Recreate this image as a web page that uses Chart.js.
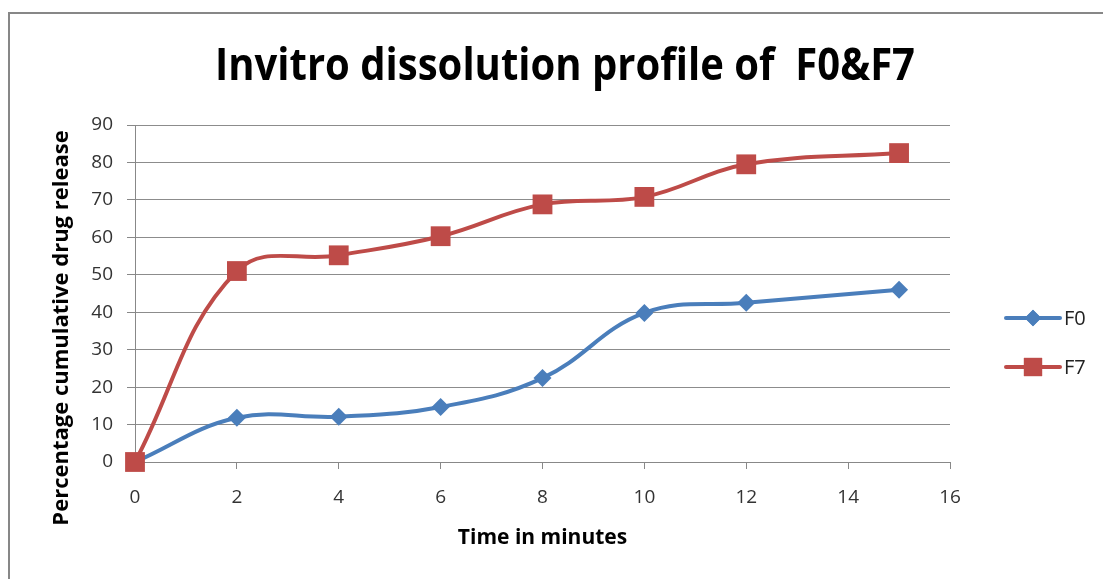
<!DOCTYPE html>
<html>
<head>
<meta charset="utf-8">
<script src="https://cdn.jsdelivr.net/npm/chart.js@4.4.1/dist/chart.umd.min.js"></script>
<style>
  html, body { margin: 0; padding: 0; background: #fff; overflow: hidden; width: 1103px; height: 579px; }
  #frame { position: absolute; left: 8px; top: 12px; width: 1095px; height: 567px;
           border-left: 2px solid #878787; border-top: 2px solid #878787; box-sizing: border-box; }
  #wrap { position: absolute; left: 0; top: 0; width: 1103px; height: 579px; }
</style>
</head>
<body>
<div id="frame"></div>
<div id="wrap"><canvas id="c" width="1103" height="579"></canvas></div>
<script>
// Sampling times (minutes)
const timeMinutes = [0, 2, 4, 6, 8, 10, 12, 15];
// Percentage cumulative drug release
const releaseF0 = [0, 11.8, 12.1, 14.7, 22.4, 39.8, 42.5, 46.0];
const releaseF7 = [0, 51.0, 55.2, 60.3, 68.8, 70.8, 79.5, 82.5];
const seriesNames = ['F0', 'F7'];
const xTicks = [0, 2, 4, 6, 8, 10, 12, 14, 16];
const yTicks = [0, 10, 20, 30, 40, 50, 60, 70, 80, 90];

const BLUE = '#4A7EBB';
const RED = '#BE4B48';
const BODY_FONT = "'Open Sans', 'Liberation Sans', sans-serif";

const toPoints = (xs, ys) => xs.map((x, i) => ({ x, y: ys[i] }));

// Chart heading, condensed horizontally to a narrow bold face
const heading = {
  id: 'heading',
  afterDraw(chart) {
    const ctx = chart.ctx;
    const text = 'Invitro dissolution profile of  F0&F7';
    ctx.save();
    ctx.font = 'bold 44px ' + BODY_FONT;
    ctx.fillStyle = '#000';
    ctx.textBaseline = 'alphabetic';
    ctx.textAlign = 'center';
    const w = ctx.measureText(text).width;
    const sx = Math.min(1, 700 / w);
    ctx.translate(565, 80);
    ctx.scale(sx, 1);
    ctx.fillText(text, 0, 0);
    ctx.restore();
  }
};

// Legend at the right: short line with the marker centred on it
const sideLegend = {
  id: 'sideLegend',
  afterDraw(chart) {
    const ctx = chart.ctx;
    const rowY = [318, 367];
    chart.data.datasets.forEach((ds, i) => {
      const y = rowY[i];
      const x0 = 1006, x1 = 1060, xm = (x0 + x1) / 2;
      ctx.save();
      ctx.strokeStyle = ds.borderColor;
      ctx.lineWidth = ds.borderWidth;
      ctx.lineCap = 'round';
      ctx.beginPath();
      ctx.moveTo(x0, y);
      ctx.lineTo(x1, y);
      ctx.stroke();
      ctx.fillStyle = ds.pointBackgroundColor;
      Chart.helpers.drawPoint(ctx, {
        pointStyle: ds.pointStyle,
        radius: ds.pointRadius * 0.92,
        borderWidth: 0
      }, xm, y);
      ctx.fill();
      ctx.fillStyle = '#222';
      ctx.font = '20px ' + BODY_FONT;
      ctx.textBaseline = 'middle';
      ctx.textAlign = 'left';
      ctx.fillText(ds.label, x1 + 4, y + 1);
      ctx.restore();
    });
  }
};

// Vertical axis title, placed along the left edge
const yTitle = {
  id: 'yTitle',
  afterDraw(chart) {
    const ctx = chart.ctx;
    ctx.save();
    ctx.translate(62, 328);
    ctx.rotate(-Math.PI / 2);
    ctx.fillStyle = '#000';
    ctx.font = 'bold 22px ' + BODY_FONT;
    ctx.textAlign = 'center';
    ctx.textBaseline = 'middle';
    ctx.fillText('Percentage cumulative drug release', 0, 0);
    ctx.restore();
  }
};

new Chart(document.getElementById('c'), {
  type: 'line',
  data: {
    datasets: [
      {
        label: seriesNames[0],
        data: toPoints(timeMinutes, releaseF0),
        borderColor: BLUE,
        backgroundColor: BLUE,
        pointBackgroundColor: BLUE,
        pointBorderWidth: 0,
        borderWidth: 4,
        pointStyle: 'rectRot',
        pointRadius: 9,
        tension: 0.4,
        fill: false,
        clip: false,
        order: 1
      },
      {
        label: seriesNames[1],
        data: toPoints(timeMinutes, releaseF7),
        borderColor: RED,
        backgroundColor: RED,
        pointBackgroundColor: RED,
        pointBorderWidth: 0,
        borderWidth: 4,
        pointStyle: 'rect',
        pointRadius: 14,
        tension: 0.4,
        fill: false,
        clip: false,
        order: 0
      }
    ]
  },
  options: {
    responsive: false,
    animation: false,
    layout: { padding: { left: 40, right: 153, top: 125, bottom: 20 } },
    plugins: {
      legend: { display: false },
      tooltip: { enabled: false },
      title: { display: false }
    },
    scales: {
      x: {
        type: 'linear',
        min: 0,
        max: 16,
        afterFit(s) { s.height = 97; },
        afterBuildTicks(s) { s.ticks = xTicks.map(v => ({ value: v })); },
        grid: { drawOnChartArea: false, color: '#888', tickLength: 7, tickColor: '#888' },
        border: { color: '#888', width: 1 },
        ticks: { color: '#333', font: { family: BODY_FONT, size: 19 }, padding: 17 },
        title: {
          display: true,
          text: 'Time in minutes',
          color: '#000',
          font: { family: BODY_FONT, size: 21, weight: 'bold' },
          padding: { top: 0, bottom: 8 }
        }
      },
      y: {
        min: 0,
        max: 90,
        afterFit(s) { s.width = 95; },
        afterBuildTicks(s) { s.ticks = yTicks.map(v => ({ value: v })); },
        grid: { color: '#8c8c8c', tickLength: 8, tickColor: '#888' },
        border: { color: '#888', width: 1 },
        ticks: { color: '#333', font: { family: BODY_FONT, size: 19 }, padding: 14 }
      }
    }
  },
  plugins: [heading, sideLegend, yTitle]
});
</script>
</body>
</html>
